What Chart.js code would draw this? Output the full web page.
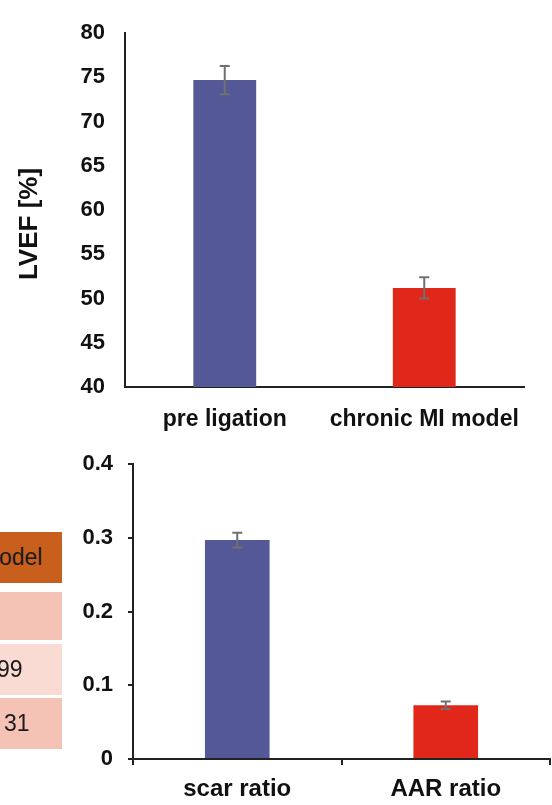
<!DOCTYPE html>
<html>
<head>
<meta charset="utf-8">
<script src="https://cdn.jsdelivr.net/npm/chart.js@4.4.0/dist/chart.umd.min.js"></script>
<style>
  body { margin: 0; background: #fff; width: 552px; height: 805px; overflow: hidden; position: relative; font-family: 'Liberation Sans', Arial, sans-serif; }
  canvas { position: absolute; left: 0; }
  #lvefChart { top: 0; }
  #ratioChart { top: 436px; }
  .cell { position: absolute; left: 0; width: 62px; overflow: hidden; white-space: nowrap; font-size: 23px; color: #1a1a1a; }
  .cell span { position: absolute; }
</style>
</head>
<body>
<canvas id="lvefChart" width="552" height="436"></canvas>
<canvas id="ratioChart" width="552" height="369"></canvas>
<div id="tableBox"></div>
<script>
// LVEF chart data
const lvefLabels = ['pre ligation', 'chronic MI model'];
const lvefMean = [74.7, 51.2];
const lvefErr = [1.6, 1.2];

// scar / AAR chart data
const ratioLabels = ['scar ratio', 'AAR ratio'];
const ratioMean = [0.297, 0.073];
const ratioErr = [0.010, 0.005];

// cut off table on the left (only the visible part)
const tableText = ['odel', '', '99', '31'];
const tableColors = ['#c85f1d', '#f5c3b6', '#fadbd3', '#f5c3b6'];

const barColors = ['#545896', '#e0271a'];
const fontName = "'Liberation Sans', Arial, sans-serif";

//draw the error bars on top of the bars
const errorBars = {
    id: 'errorBars',
    afterDatasetsDraw(chart, args, opts) {
        const ctx = chart.ctx;
        const meta = chart.getDatasetMeta(0);
        const y = chart.scales.y;
        const vals = chart.data.datasets[0].data;
        ctx.save();
        ctx.strokeStyle = '#707070';
        ctx.lineWidth = 2;
        meta.data.forEach(function (bar, i) {
            const yt = y.getPixelForValue(vals[i] + opts.err[i]);
            const yb = y.getPixelForValue(vals[i] - opts.err[i]);
            ctx.beginPath();
            ctx.moveTo(bar.x, yt); ctx.lineTo(bar.x, yb);
            ctx.moveTo(bar.x - 5, yt); ctx.lineTo(bar.x + 5, yt);
            ctx.moveTo(bar.x - 5, yb); ctx.lineTo(bar.x + 5, yb);
            ctx.stroke();
        });
        ctx.restore();
    }
};

//rotated y title (sits a little below the middle of the axis in the original)
const sideTitle = {
    id: 'sideTitle',
    afterDraw(chart, args, opts) {
        if (!opts.text) return;
        const ctx = chart.ctx;
        ctx.save();
        ctx.translate(opts.x, opts.y);
        ctx.rotate(-Math.PI / 2);
        ctx.font = 'bold ' + opts.size + 'px ' + fontName;
        ctx.fillStyle = '#111';
        ctx.textAlign = 'center';
        ctx.textBaseline = 'middle';
        ctx.fillText(opts.text, 0, 0);
        ctx.restore();
    }
};

function makeChart(id, labels, values, errs, cfg) {
    return new Chart(document.getElementById(id), {
        type: 'bar',
        data: {
            labels: labels,
            datasets: [{
                data: values,
                backgroundColor: barColors,
                borderWidth: 0,
                categoryPercentage: 1,
                barPercentage: cfg.barPct
            }]
        },
        options: {
            responsive: false,
            animation: false,
            devicePixelRatio: 1,
            layout: { padding: cfg.padding },
            plugins: {
                legend: { display: false },
                tooltip: { enabled: false },
                errorBars: { err: errs },
                sideTitle: cfg.title || {}
            },
            scales: {
                x: {
                    afterFit: function (s) { s.height = cfg.xHeight; },
                    grid: { display: cfg.ticks, drawOnChartArea: false, drawTicks: cfg.ticks, tickLength: 6, color: '#222', lineWidth: 2 },
                    border: { display: true, color: '#222', width: 2 },
                    ticks: { color: '#111', padding: cfg.xPad, maxRotation: 0, font: { family: fontName, size: cfg.xSize, weight: 'bold' } }
                },
                y: {
                    min: cfg.min, max: cfg.max,
                    afterFit: function (s) { s.width = cfg.yWidth; },
                    grid: { display: cfg.ticks, drawOnChartArea: false, drawTicks: cfg.ticks, tickLength: 5, color: '#222', lineWidth: 2 },
                    border: { display: true, color: '#222', width: 2 },
                    ticks: { stepSize: cfg.step, color: '#111', padding: cfg.yPad, font: { family: fontName, size: 22, weight: 'bold' } }
                }
            }
        },
        plugins: [errorBars, sideTitle]
    });
}

makeChart('lvefChart', lvefLabels, lvefMean, lvefErr, {
    barPct: 0.315, padding: { top: 18, right: 28, left: 0, bottom: 0 },
    xHeight: 49, yWidth: 125, min: 40, max: 80, step: 5,
    ticks: false, xPad: 19, yPad: 20, xSize: 23,
    title: { text: 'LVEF [%]', x: 30, y: 224, size: 26 }
});

makeChart('ratioChart', ratioLabels, ratioMean, ratioErr, {
    barPct: 0.31, padding: { top: 16, right: 2, left: 0, bottom: 0 },
    xHeight: 46, yWidth: 133, min: 0, max: 0.4, step: 0.1,
    ticks: true, xPad: 10, yPad: 15, xSize: 24
});

//build the table cells
const tops = [532, 592, 644, 698];
const heights = [51, 48, 51, 51];
const textLeft = [-1, 0, -3, 4];
const box = document.getElementById('tableBox');
for (let i = 0; i < tableText.length; i++) {
    const c = document.createElement('div');
    c.className = 'cell';
    c.style.top = tops[i] + 'px';
    c.style.height = heights[i] + 'px';
    c.style.lineHeight = heights[i] + 'px';
    c.style.background = tableColors[i];
    c.innerHTML = '<span style="left:' + textLeft[i] + 'px">' + tableText[i] + '</span>';
    box.appendChild(c);
}
</script>
</body>
</html>
